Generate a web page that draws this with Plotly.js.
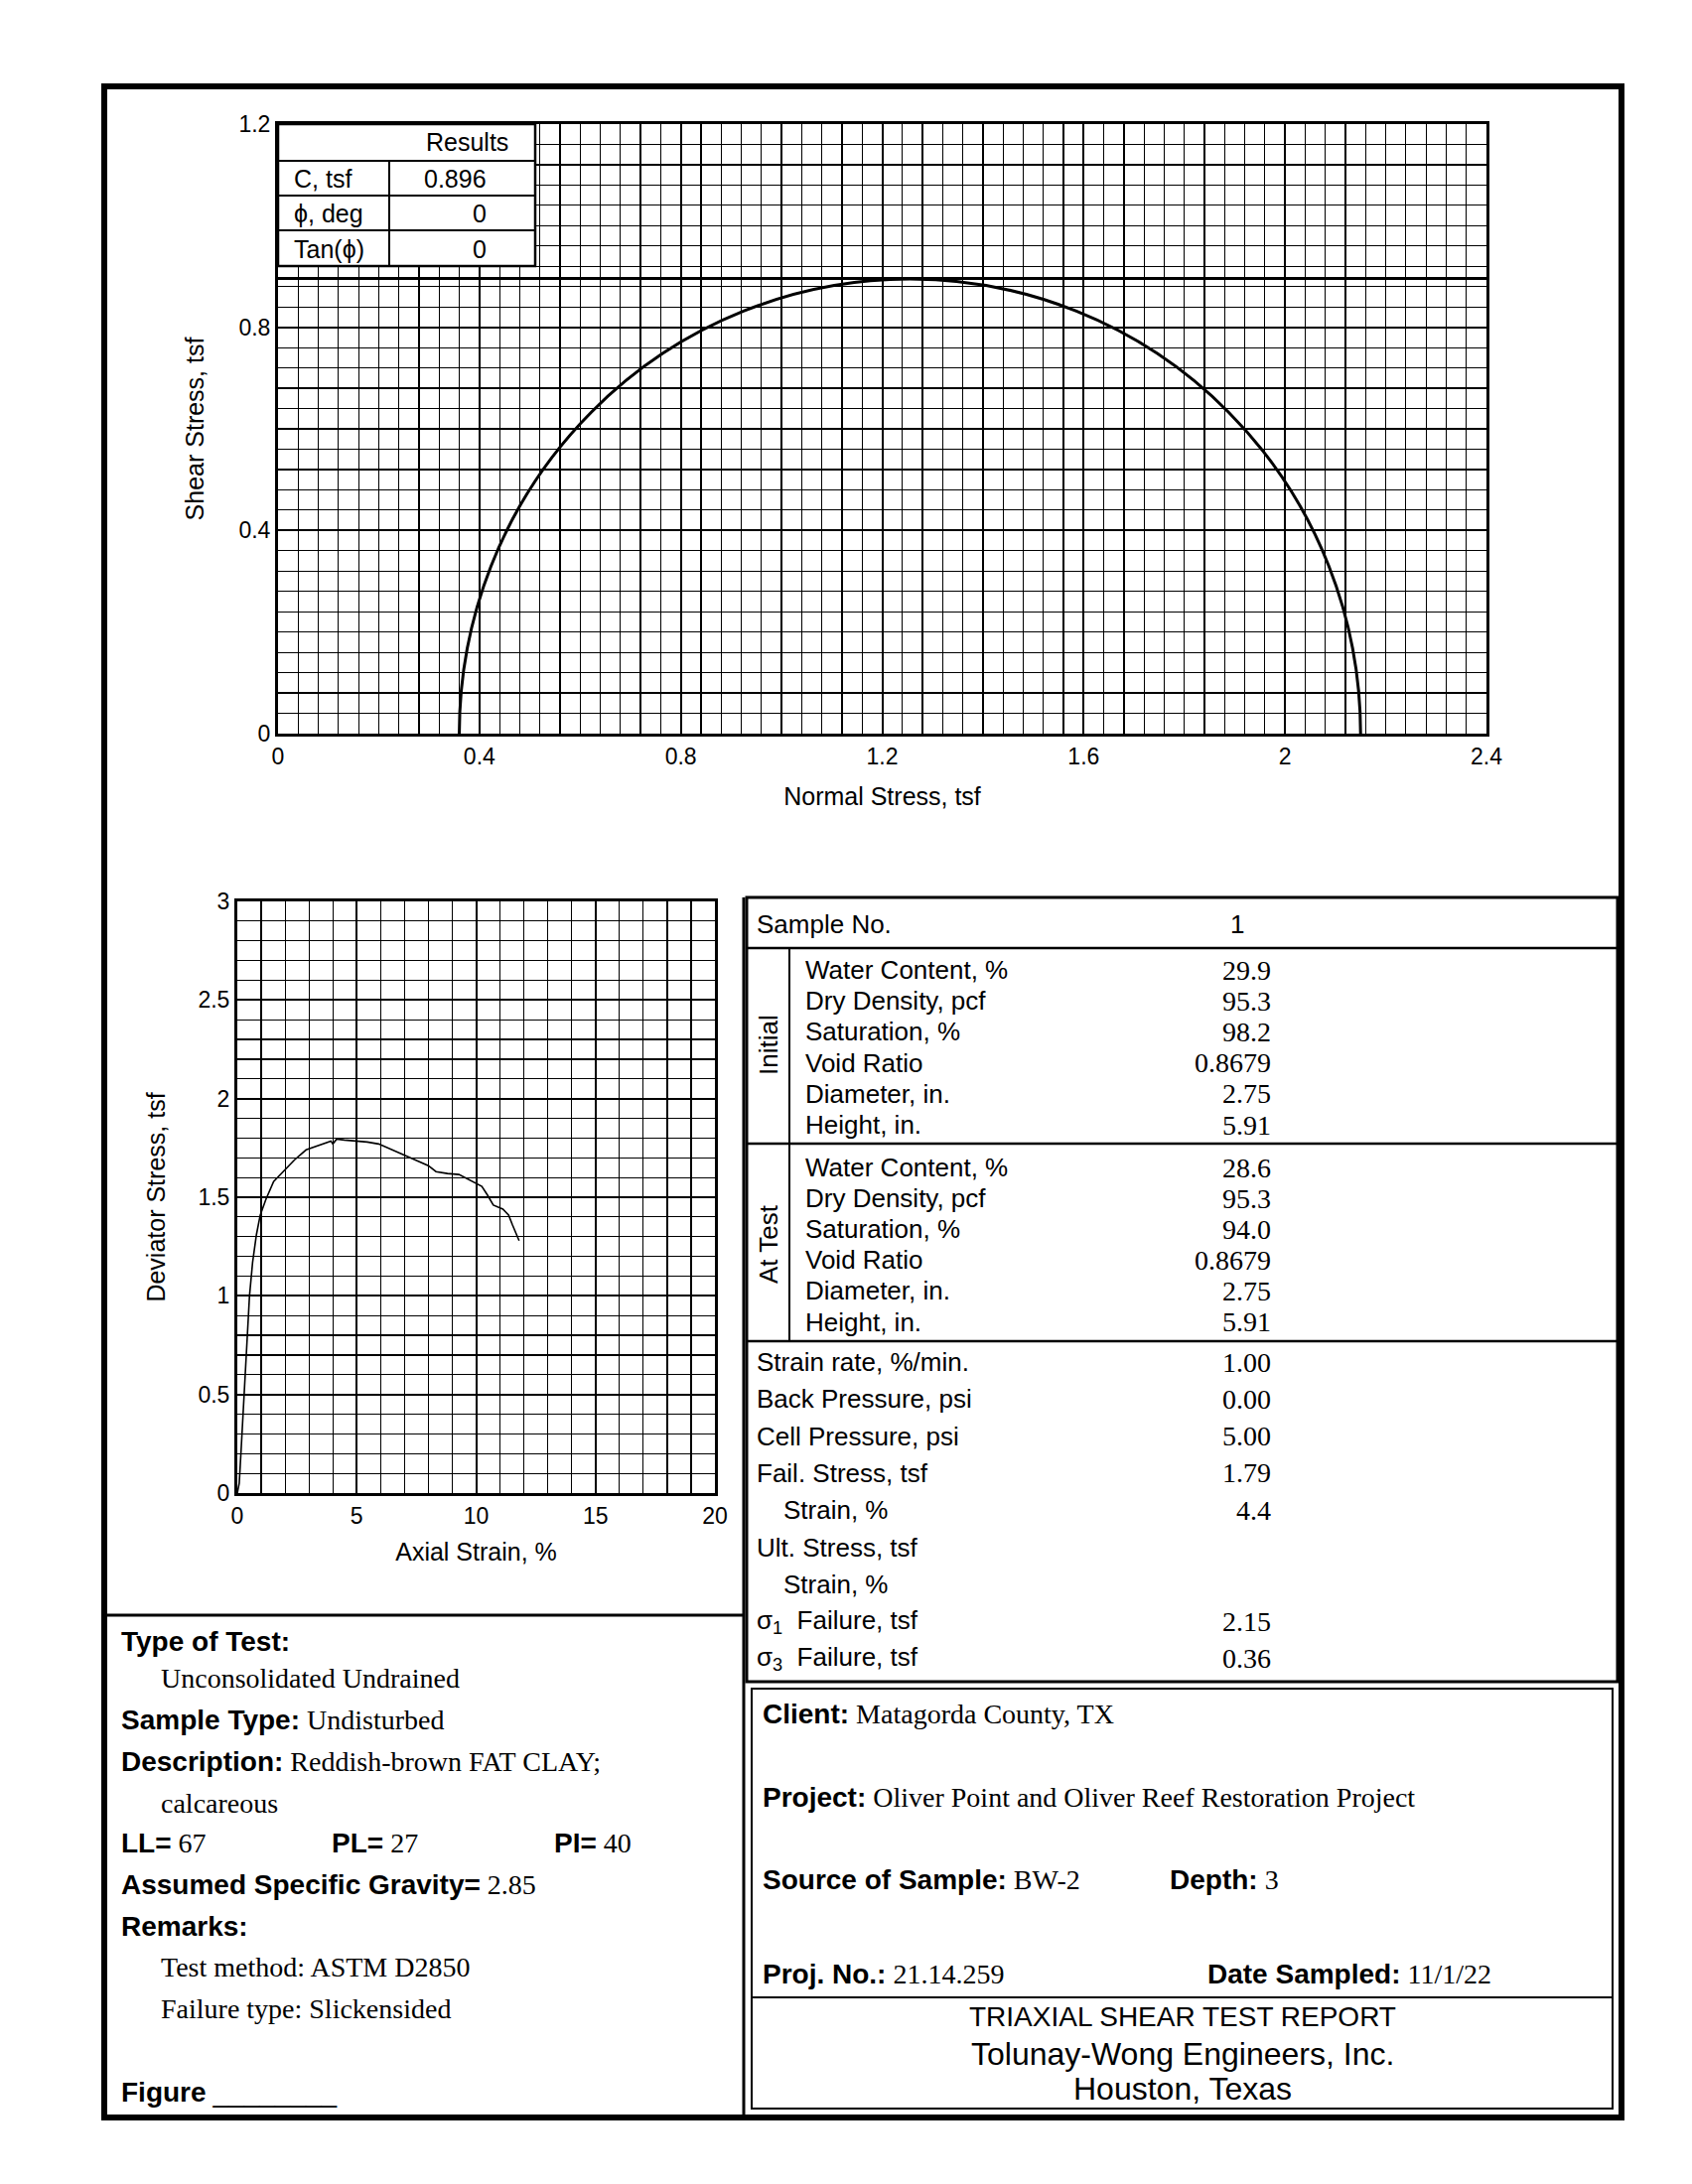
<!DOCTYPE html>
<html>
<head>
<meta charset="utf-8">
<script src="https://cdn.plot.ly/plotly-3.0.1.min.js"></script>
<style>
  html, body { margin: 0; padding: 0; background: #ffffff; }
  #chart { width: 1704px; height: 2200px; }
</style>
</head>
<body>
<div id="chart"></div>
<script>
// ---------------- DATA ----------------
const sigma3 = 0.36;          // tsf, minor principal stress at failure
const sigma1 = 2.15;          // tsf, major principal stress at failure
const cohesion = 0.896;       // C, tsf
const normalRange = [0, 2.4];
const shearRange = [0, 1.2];

const axialStrain = [0, 0.08, 0.16, 0.29, 0.40, 0.51, 0.64, 0.80, 0.96, 1.20, 1.52, 1.92, 2.40, 2.88, 3.36, 3.92, 4.00, 4.16, 4.48, 4.93, 5.44, 5.92, 6.40, 6.96, 7.44, 8.00, 8.32, 8.80, 9.28, 9.76, 10.24, 10.48, 10.72, 11.12, 11.36, 11.52, 11.80];
const deviatorStress = [0, 0.05, 0.22, 0.50, 0.76, 1.00, 1.17, 1.31, 1.41, 1.49, 1.58, 1.63, 1.69, 1.74, 1.76, 1.785, 1.77, 1.795, 1.79, 1.785, 1.78, 1.77, 1.745, 1.715, 1.69, 1.66, 1.63, 1.62, 1.615, 1.585, 1.555, 1.51, 1.46, 1.44, 1.41, 1.36, 1.28];

const resultLabels = ['C, tsf', 'ϕ, deg', 'Tan(ϕ)'];
const resultValues = ['0.896', '0', '0'];

const sampleNo = '1';
const propLabels = ['Water Content, %', 'Dry Density, pcf', 'Saturation, %', 'Void Ratio', 'Diameter, in.', 'Height, in.'];
const initialValues = ['29.9', '95.3', '98.2', '0.8679', '2.75', '5.91'];
const atTestValues = ['28.6', '95.3', '94.0', '0.8679', '2.75', '5.91'];
const testLabels = ['Strain rate, %/min.', 'Back Pressure, psi', 'Cell Pressure, psi', 'Fail. Stress, tsf', 'Strain, %', 'Ult. Stress, tsf', 'Strain, %', 'σ<sub>1</sub>  Failure, tsf', 'σ<sub>3</sub>  Failure, tsf'];
const testValues = ['1.00', '0.00', '5.00', '1.79', '4.4', '', '', '2.15', '0.36'];

// ---------------- LAYOUT HELPERS ----------------
const W = 1704, H = 2200;
const px = x => x / W;
const py = y => 1 - y / H;
const SANS = 'Liberation Sans, Arial, sans-serif';
const SERIF = 'Liberation Serif, Times New Roman, serif';
const sb = t => '<span style="font-family:Liberation Sans;font-weight:bold">' + t + '</span>';

const shapes = [];
const annotations = [];
function rect(x0, y0, x1, y1, w, fill) {
  shapes.push({type: 'rect', xref: 'paper', yref: 'paper', x0: px(x0), x1: px(x1), y0: py(y1), y1: py(y0),
    line: {color: 'black', width: w}, fillcolor: fill || 'rgba(0,0,0,0)', layer: 'above'});
}
function line(x0, y0, x1, y1, w) {
  shapes.push({type: 'line', xref: 'paper', yref: 'paper', x0: px(x0), x1: px(x1), y0: py(y0), y1: py(y1),
    line: {color: 'black', width: w}, layer: 'above'});
}
function text(t, x, y, opts) {
  opts = opts || {};
  annotations.push({text: t, xref: 'paper', yref: 'paper', x: px(x), y: py(y),
    xanchor: opts.xanchor || 'left', yanchor: 'middle', showarrow: false,
    textangle: opts.angle || 0,
    font: {family: opts.family || SANS, size: opts.size || 26, color: 'black'}});
}

// Page frame
rect(105, 87, 1633, 2133, 6);
line(749, 904, 749, 2133, 3);
line(105, 1627, 749, 1627, 3);

// Right data table
rect(752, 904, 1629, 1694, 3);
line(752, 955, 1629, 955, 2.5);
line(752, 1152, 1629, 1152, 2.5);
line(752, 1351, 1629, 1351, 2.5);
line(795, 955, 795, 1351, 2);
// Client box (double frame)
rect(757, 1701, 1624, 2124, 2);
line(757, 2012, 1624, 2012, 2);

// Results table inside top plot
rect(280, 125, 539, 268, 2.5, 'white');
line(280, 162, 539, 162, 2);
line(280, 197, 539, 197, 2);
line(280, 232, 539, 232, 2);
line(392, 162, 392, 268, 2);
text('Results', 470, 143, {xanchor: 'center', size: 25});
resultLabels.forEach((l, i) => {
  const y = 180 + i * 35.5;
  text(l, 294, y, {size: 25});
  text(resultValues[i], 492, y, {xanchor: 'right', size: 25});
});

// Mohr circle (drawn through the data axes)
const radius = (sigma1 - sigma3) / 2;
shapes.push({type: 'circle', xref: 'x', yref: 'y', x0: sigma3, x1: sigma1, y0: -radius, y1: radius,
  line: {color: 'black', width: 3}, layer: 'above'});

// Right table text
text('Sample No.', 760, 931);
text(sampleNo, 1246, 931, {xanchor: 'center'});
text('Initial', 774, 1053, {angle: -90, xanchor: 'center'});
text('At Test', 774, 1253, {angle: -90, xanchor: 'center'});
propLabels.forEach((l, i) => {
  const y1 = 977 + i * 31.2;
  const y2 = 1176 + i * 31.1;
  text(l, 809, y1);
  text(initialValues[i], 1282, y1, {xanchor: 'right', family: SERIF, size: 28});
  text(l, 809, y2);
  text(atTestValues[i], 1282, y2, {xanchor: 'right', family: SERIF, size: 28});
});
const indentRows = [4, 6];
testLabels.forEach((l, i) => {
  const y = 1372 + i * 37.3;
  text(l, indentRows.includes(i) ? 787 : 760, y);
  if (testValues[i]) text(testValues[i], 1282, y, {xanchor: 'right', family: SERIF, size: 28});
});

// Left description block
const L = 120, LI = 160;
text(sb('Type of Test:'), L, 1653, {family: SERIF, size: 28});
text('Unconsolidated Undrained', LI, 1690, {family: SERIF, size: 28});
text(sb('Sample Type:') + ' Undisturbed', L, 1732, {family: SERIF, size: 28});
text(sb('Description:') + ' Reddish-brown FAT CLAY;', L, 1774, {family: SERIF, size: 28});
text('calcareous', LI, 1816, {family: SERIF, size: 28});
text(sb('LL=') + ' 67', L, 1856, {family: SERIF, size: 28});
text(sb('PL=') + ' 27', 332, 1856, {family: SERIF, size: 28});
text(sb('PI=') + ' 40', 556, 1856, {family: SERIF, size: 28});
text(sb('Assumed Specific Gravity=') + ' 2.85', L, 1898, {family: SERIF, size: 28});
text(sb('Remarks:'), L, 1940, {family: SERIF, size: 28});
text('Test method: ASTM D2850', LI, 1981, {family: SERIF, size: 28});
text('Failure type: Slickensided', LI, 2023, {family: SERIF, size: 28});
text(sb('Figure') + ' <span style="font-family:Liberation Sans">________</span>', L, 2107, {family: SERIF, size: 28});

// Client box text
text(sb('Client:') + ' Matagorda County, TX', 766, 1726, {family: SERIF, size: 28});
text(sb('Project:') + ' Oliver Point and Oliver Reef Restoration Project', 766, 1810, {family: SERIF, size: 28});
text(sb('Source of Sample:') + ' BW-2', 766, 1893, {family: SERIF, size: 28});
text(sb('Depth:') + ' 3', 1176, 1893, {family: SERIF, size: 28});
text(sb('Proj. No.:') + ' 21.14.259', 766, 1988, {family: SERIF, size: 28});
text(sb('Date Sampled:') + ' 11/1/22', 1214, 1988, {family: SERIF, size: 28});
text('TRIAXIAL SHEAR TEST REPORT', 1191, 2031, {xanchor: 'center', size: 28});
text('Tolunay-Wong Engineers, Inc.', 1191, 2069, {xanchor: 'center', size: 32});
text('Houston, Texas', 1191, 2104, {xanchor: 'center', size: 32});

// ---------------- TRACES ----------------
const traces = [
  {x: normalRange, y: [cohesion, cohesion], xaxis: 'x', yaxis: 'y', mode: 'lines',
   line: {color: 'black', width: 3}, hoverinfo: 'skip', showlegend: false},
  {x: axialStrain, y: deviatorStress, xaxis: 'x2', yaxis: 'y2', mode: 'lines',
   line: {color: 'black', width: 1.6}, hoverinfo: 'skip', showlegend: false}
];

function axis(domain, range, dtick, minor, anchor, title, standoff) {
  return {
    domain: domain, range: range, dtick: dtick, tick0: 0, anchor: anchor,
    showgrid: true, gridcolor: 'black', gridwidth: 2,
    minor: {dtick: minor, showgrid: true, gridcolor: 'black', gridwidth: 1.2, ticks: ''},
    showline: true, mirror: true, linecolor: 'black', linewidth: 3,
    ticks: '', zeroline: false, fixedrange: true,
    tickfont: {family: SANS, size: 23, color: 'black'},
    title: {text: title, standoff: standoff, font: {family: SANS, size: 25, color: 'black'}}
  };
}

const layout = {
  width: W, height: H,
  margin: {l: 0, r: 0, t: 0, b: 0},
  paper_bgcolor: 'white', plot_bgcolor: 'white',
  showlegend: false,
  xaxis: axis([px(280), px(1497)], normalRange, 0.4, 0.04, 'y', 'Normal Stress, tsf', 20),
  yaxis: axis([py(739), py(125)], shearRange, 0.4, 0.04, 'x', 'Shear Stress, tsf', 28),
  xaxis2: axis([px(239), px(720)], [0, 20], 5, 1, 'y2', 'Axial Strain, %', 16),
  yaxis2: axis([py(1504), py(908)], [0, 3], 0.5, 0.1, 'x2', 'Deviator Stress, tsf', 26),
  shapes: shapes,
  annotations: annotations
};

Plotly.newPlot('chart', traces, layout, {staticPlot: true, displayModeBar: false});
</script>
</body>
</html>
